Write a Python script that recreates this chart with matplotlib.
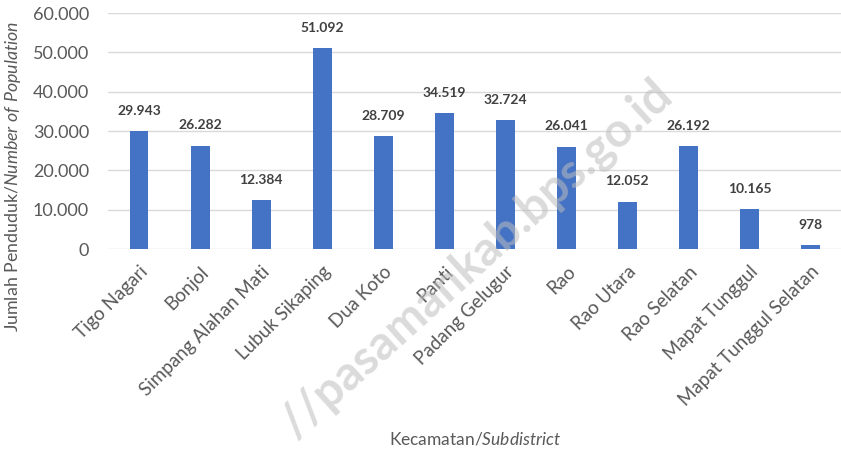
import matplotlib
matplotlib.use("Agg")
import matplotlib.pyplot as plt
from matplotlib.ticker import FuncFormatter

categories = ["Tigo Nagari", "Bonjol", "Simpang Alahan Mati", "Lubuk Sikaping",
              "Dua Koto", "Panti", "Padang Gelugur", "Rao", "Rao Utara",
              "Rao Selatan", "Mapat Tunggul", "Mapat Tunggul Selatan"]
population = [29943, 26282, 12384, 51092, 28709, 34519, 32724, 26041, 12052,
              26192, 10165, 978]
y_ticks = [0, 10000, 20000, 30000, 40000, 50000, 60000]

plt.rcParams['font.family'] = ['Lato', 'DejaVu Sans']
plt.rcParams['mathtext.fontset'] = 'custom'
plt.rcParams['mathtext.rm'] = 'Lato'
plt.rcParams['mathtext.it'] = 'Lato:italic'

def fmt(v):
    return f"{int(v):,}".replace(",", ".")

fig = plt.figure(figsize=(8.41, 4.53), dpi=100)
ax = fig.add_axes([0.129, 0.450, 0.871, 0.521])

x = list(range(len(categories)))
ax.bar(x, population, width=0.31, color="#4472C4", zorder=3)
for xi, v in zip(x, population):
    ax.annotate(fmt(v), (xi, v), xytext=(0, 10.5), textcoords="offset points",
                ha="center", va="bottom", fontsize=10, fontweight="bold",
                color="#404040", zorder=4)

ax.set_xlim(-0.5, len(categories) - 0.5)
ax.set_ylim(0, 60000)
ax.set_yticks(y_ticks)
ax.yaxis.set_major_formatter(FuncFormatter(lambda v, p: fmt(v)))
ax.grid(axis="y", color="#d9d9d9", linewidth=1, zorder=0)
for s in ["top", "right", "left", "bottom"]:
    ax.spines[s].set_visible(False)
ax.tick_params(axis="both", length=0, colors="#595959")
ax.tick_params(axis="y", pad=14, labelsize=13)
ax.set_xticks(x)
ax.set_xticklabels(categories, rotation=45, ha="right", rotation_mode="anchor",
                   fontsize=13.5)
ax.tick_params(axis="x", pad=10)

fig.text(0.015, 0.61, r'Jumlah Penduduk/$\it{Number\ of\ Population}$',
         rotation=90, ha="center", va="center", fontsize=12.8, color="#595959")
fig.text(0.565, 0.03, r'Kecamatan/$\it{Subdistrict}$', ha="center",
         va="center", fontsize=12.5, color="#595959")

fig.text(0.792, 0.805, "//pasamankab.bps.go.id", rotation=42,
         rotation_mode="anchor", ha="right", va="center", fontsize=34.5,
         fontweight="bold", color="#bdbdbd", alpha=0.55, zorder=10)

fig.savefig("out.png", dpi=100)
